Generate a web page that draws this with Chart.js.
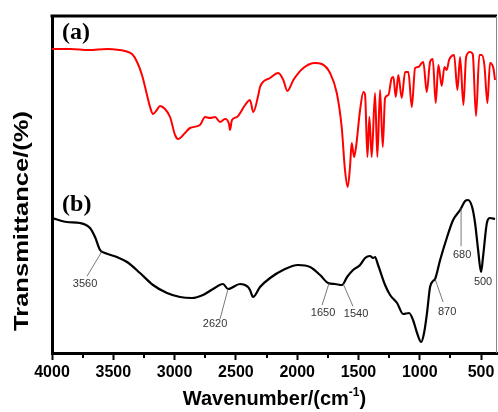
<!DOCTYPE html>
<html>
<head>
<meta charset="utf-8">
<script src="https://cdn.jsdelivr.net/npm/chart.js@4.4.1/dist/chart.umd.min.js"></script>
<style>
  html, body { margin: 0; padding: 0; background: #fff; }
  #wrap { width: 498px; height: 412px; }
</style>
</head>
<body>
<div id="wrap"><canvas id="ftir" width="498" height="412"></canvas></div>
<script>
// spectrum (a) - red
var redWn = [4000, 3850, 3700, 3550, 3450, 3405, 3347, 3306, 3266, 3225, 3200, 3176, 3145, 3119, 3078, 3037,
  2996, 2972, 2915, 2874, 2793, 2752, 2711, 2670, 2629, 2589, 2556, 2548, 2532, 2491, 2425, 2385, 2358, 2317,
  2303, 2221, 2154, 2113, 2080, 2031, 1950, 1854, 1800, 1732, 1677, 1637, 1610, 1588, 1569, 1555, 1536, 1520,
  1487, 1460, 1446, 1427, 1411, 1392, 1365, 1346, 1324, 1302, 1283, 1256, 1229, 1215, 1196, 1175, 1147, 1120,
  1093, 1065, 1038, 1011, 984, 971, 943, 916, 894, 870, 848, 821, 799, 780, 761, 739, 720, 693, 671, 644, 622,
  590, 568, 541, 514, 494, 473, 448, 427, 400, 386];
var redT = [304, 304, 303, 304, 303, 302, 299, 291, 278, 258, 246, 239, 243, 247, 244, 236,
  218, 214, 220, 225, 228, 236, 235, 236, 231, 234, 229, 223, 233, 236, 248, 253, 241, 258,
  266, 275, 280, 273, 262, 273, 285, 290, 289, 280, 260, 226, 183, 166, 186, 210, 196, 206,
  243, 261, 258, 196, 236, 196, 260, 196, 263, 206, 255, 258, 275, 276, 256, 278, 255, 281,
  281, 246, 285, 286, 290, 291, 261, 291, 294, 250, 288, 267, 286, 283, 293, 297, 298, 263, 296, 248, 296,
  301, 299, 237, 298, 298, 288, 250, 290, 285, 273];

// spectrum (b) - black
var blackWn = [4000, 3878, 3772, 3690, 3649, 3608, 3568, 3470, 3388, 3282, 3176, 3062, 2956, 2858, 2768, 2686,
  2605, 2564, 2466, 2401, 2385, 2360, 2303, 2221, 2115, 1993, 1895, 1813, 1748, 1691, 1634, 1593, 1544, 1487,
  1446, 1406, 1381, 1365, 1340, 1283, 1242, 1185, 1136, 1087, 1055, 1022, 989, 965, 941, 916, 892, 875, 834,
  777, 728, 671, 630, 606, 573, 549, 524, 500, 484, 451, 427, 386];
var blackT = [135, 131, 130, 125, 116, 103, 100, 96, 91, 80, 68, 60, 56, 55, 58, 64,
  69, 64, 69, 66, 63, 56, 66, 75, 83, 88, 86, 78, 70, 69, 68, 76, 83, 88,
  95, 97, 95, 96, 88, 68, 58, 50, 39, 40, 33, 20, 11, 20, 40, 66, 72, 74, 93,
  116, 133, 143, 152, 153, 146, 130, 103, 81, 96, 131, 135, 134];

var xTicks = [4000, 3500, 3000, 2500, 2000, 1500, 1000, 500];
var xMinor = [3750, 3250, 2750, 2250, 1750, 1250, 750];

// peak labels on curve (b)
var peakText = ['3560', '2620', '1650', '1540', '870', '680', '500'];
var peakWn = [3592, 2564, 1740, 1626, 875, 663, 500];

var toXY = function(xs, ys) {
  return xs.map(function(x, i) { return {x: x, y: ys[i]}; });
};

var interpBlack = function(w) {
  for (var i = 0; i < blackWn.length - 1; i++) {
    var a = blackWn[i], b = blackWn[i + 1];
    if (w <= a && w >= b) {
      return blackT[i] + (blackT[i + 1] - blackT[i]) * (a - w) / (a - b);
    }
  }
  return blackT[blackT.length - 1];
};

// leader line end / label centre, px offsets from the point on the curve
var peakOffsets = [
  {line: [-15, 25], lab: [-17, 33]},
  {line: [-8, 30], lab: [-13, 35]},
  {line: [-7, 22], lab: [-6, 30]},
  {line: [10, 23], lab: [13, 31]},
  {line: [8, 23], lab: [12, 33]},
  {line: [0, 38], lab: [1, 47]},
  {line: null, lab: [2, 10]}
];

var decor = {
  id: 'decor',
  afterDraw: function(chart) {
    var ctx = chart.ctx;
    var a = chart.chartArea;
    var xs = chart.scales.x, ys = chart.scales.y;
    ctx.save();

    // frame: thick top, thin right
    ctx.strokeStyle = '#000';
    ctx.lineWidth = 3;
    ctx.beginPath();
    ctx.moveTo(a.left - 1.5, a.top);
    ctx.lineTo(a.right, a.top);
    ctx.stroke();
    ctx.strokeStyle = '#888';
    ctx.lineWidth = 1;
    ctx.beginPath();
    ctx.moveTo(a.right - 0.5, a.top);
    ctx.lineTo(a.right - 0.5, a.bottom);
    ctx.stroke();

    // minor ticks
    ctx.strokeStyle = '#000';
    ctx.lineWidth = 2;
    xMinor.forEach(function(v) {
      var px = Math.round(xs.getPixelForValue(v));
      ctx.beginPath();
      ctx.moveTo(px, a.bottom);
      ctx.lineTo(px, a.bottom + 5);
      ctx.stroke();
    });

    // peak annotations
    ctx.font = '11px "Liberation Sans", Arial, sans-serif';
    ctx.textAlign = 'center';
    ctx.textBaseline = 'middle';
    peakText.forEach(function(t, i) {
      var px = xs.getPixelForValue(peakWn[i]);
      var py = ys.getPixelForValue(interpBlack(peakWn[i]));
      var o = peakOffsets[i];
      if (o.line) {
        ctx.strokeStyle = '#555';
        ctx.lineWidth = 0.8;
        ctx.beginPath();
        ctx.moveTo(px, py);
        ctx.lineTo(px + o.line[0], py + o.line[1]);
        ctx.stroke();
      }
      ctx.fillStyle = '#333';
      ctx.fillText(t, px + o.lab[0], py + o.lab[1]);
    });

    // panel letters
    ctx.fillStyle = '#000';
    ctx.font = 'bold 24px "Liberation Serif", "Times New Roman", serif';
    ctx.textAlign = 'left';
    ctx.fillText('(a)', xs.getPixelForValue(3918), ys.getPixelForValue(320));
    ctx.fillText('(b)', xs.getPixelForValue(3918), ys.getPixelForValue(148));

    // y title
    ctx.save();
    ctx.font = 'bold 20px "Liberation Sans", Arial, sans-serif';
    ctx.textAlign = 'center';
    ctx.textBaseline = 'alphabetic';
    ctx.translate(28, 221);
    ctx.rotate(-Math.PI / 2);
    var yt = 'Transmittance/(%)';
    var w = ctx.measureText(yt).width;
    ctx.scale(220 / w, 1);
    ctx.fillText(yt, 0, 0);
    ctx.restore();

    // x title with superscript
    var big = 'bold 20px "Liberation Sans", Arial, sans-serif';
    var small = 'bold 12px "Liberation Sans", Arial, sans-serif';
    var p1 = 'Wavenumber/(cm', p2 = '-1', p3 = ')';
    ctx.textAlign = 'left';
    ctx.textBaseline = 'alphabetic';
    ctx.font = big;
    var w1 = ctx.measureText(p1).width, w3 = ctx.measureText(p3).width;
    ctx.font = small;
    var w2 = ctx.measureText(p2).width;
    var x0 = (a.left + a.right) / 2 - (w1 + w2 + w3) / 2;
    var base = 405;
    ctx.font = big;
    ctx.fillText(p1, x0, base);
    ctx.font = small;
    ctx.fillText(p2, x0 + w1, base - 9);
    ctx.font = big;
    ctx.fillText(p3, x0 + w1 + w2, base);

    ctx.restore();
  }
};

new Chart(document.getElementById('ftir'), {
  type: 'line',
  data: {
    datasets: [{
      label: '(a)',
      data: toXY(redWn, redT),
      borderColor: '#ff0000',
      borderWidth: 2,
      pointRadius: 0,
      cubicInterpolationMode: 'monotone',
      fill: false
    }, {
      label: '(b)',
      data: toXY(blackWn, blackT),
      borderColor: '#000',
      borderWidth: 2.2,
      pointRadius: 0,
      cubicInterpolationMode: 'monotone',
      fill: false
    }]
  },
  options: {
    responsive: false,
    animation: false,
    layout: {padding: {top: 16, right: 1, left: 0, bottom: 0}},
    plugins: {
      legend: {display: false},
      tooltip: {enabled: false}
    },
    scales: {
      x: {
        type: 'linear',
        reverse: true,
        min: 370,
        max: 4000,
        afterBuildTicks: function(s) {
          s.ticks = xTicks.map(function(v) { return {value: v}; });
        },
        afterFit: function(s) { s.height = 59; },
        ticks: {
          autoSkip: false,
          maxRotation: 0,
          padding: 3,
          color: '#000',
          font: {family: '"Liberation Sans", Arial, sans-serif', size: 16, weight: 'bold'},
          callback: function(v) { return String(v); }
        },
        grid: {display: true, drawOnChartArea: false, drawTicks: true, tickLength: 7, tickWidth: 2, tickColor: '#000'},
        border: {display: true, width: 3, color: '#000'}
      },
      y: {
        min: 0,
        max: 337,
        afterFit: function(s) { s.width = 52; },
        ticks: {display: false},
        grid: {display: false},
        border: {display: true, width: 3, color: '#000'}
      }
    }
  },
  plugins: [decor]
});
</script>
</body>
</html>
